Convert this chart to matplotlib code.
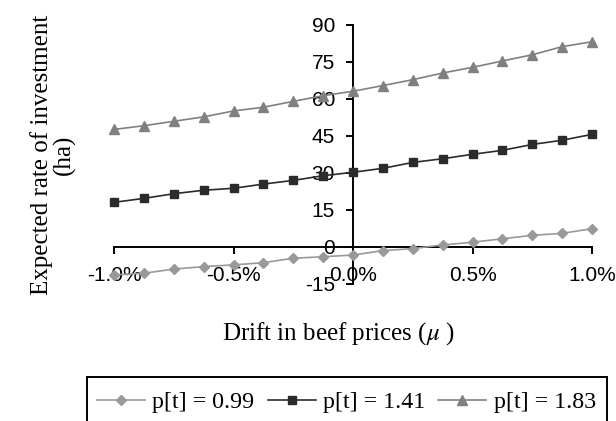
import matplotlib
matplotlib.use("Agg")
import matplotlib.pyplot as plt
from matplotlib.patches import Rectangle
from matplotlib.ticker import FuncFormatter, MultipleLocator

# ---- data ----
drift = [-1.0, -0.875, -0.75, -0.625, -0.5, -0.375, -0.25, -0.125, 0.0,
         0.125, 0.25, 0.375, 0.5, 0.625, 0.75, 0.875, 1.0]
p099 = [-11.5, -10.8, -9.1, -8.1, -7.4, -6.5, -4.7, -4.1, -3.4,
        -1.6, -0.8, 0.7, 1.8, 3.2, 4.6, 5.4, 7.3]
p141 = [18.0, 19.6, 21.5, 22.9, 23.7, 25.4, 26.9, 28.8, 30.2,
        31.8, 34.2, 35.7, 37.5, 39.1, 41.5, 43.2, 45.6]
p183 = [47.6, 49.1, 50.9, 52.7, 55.1, 56.6, 59.0, 61.3, 63.1,
        65.4, 67.8, 70.5, 72.8, 75.4, 77.9, 81.2, 83.2]
labels = ["p[t] = 0.99", "p[t] = 1.41", "p[t] = 1.83"]
yticks = [-15, 0, 15, 30, 45, 60, 75, 90]

plt.rcParams['mathtext.fontset'] = 'stix'
plt.rcParams['axes.unicode_minus'] = False

W, H = 616, 421
fig = plt.figure(figsize=(W / 100, H / 100), dpi=100)
ax = fig.add_axes([114 / W, 1 - 283.6 / H, (592 - 114) / W, (283.6 - 25) / H])

series = [
    (p099, '#999999', 'D', 5.5),
    (p141, '#2b2b2b', 's', 5.5),
    (p183, '#808080', '^', 7),
]
handles = []
for vals, col, mk, ms in series:
    h, = ax.plot(drift, vals, color=col, lw=1.2, marker=mk, ms=ms,
                 markerfacecolor=col, markeredgecolor=col, clip_on=False, zorder=3)
    handles.append(h)

ax.set_xlim(-1.0, 1.0)
ax.set_ylim(-15, 90)
ax.set_yticks(yticks)
ax.xaxis.set_major_locator(MultipleLocator(0.5))
ax.xaxis.set_major_formatter(FuncFormatter(lambda v, p: f"{v:.1f}%"))

for s in ['top', 'right']:
    ax.spines[s].set_visible(False)
ax.spines['left'].set_position(('data', 0))
ax.spines['bottom'].set_position(('data', 0))
for s in ['left', 'bottom']:
    ax.spines[s].set_linewidth(1.4)
    ax.spines[s].set_color('black')
ax.tick_params(axis='both', direction='out', length=5, width=1.4, color='black')
ax.tick_params(axis='x', pad=9, labelsize=15)
ax.tick_params(axis='y', pad=8, labelsize=15)
for lab in ax.get_xticklabels() + ax.get_yticklabels():
    lab.set_fontfamily('Liberation Sans')

serif = 'Liberation Serif'
fig.text(53 / W, 1 - 155 / H, "Expected rate of investment\n(ha)", rotation=90,
         ha='center', va='center', multialignment='center', fontsize=18,
         family=serif, linespacing=1.0)
fig.text(338 / W, 1 - 334 / H, "Drift in beef prices ($\\mu$ )", ha='center', va='center',
         fontsize=18, family=serif)

# legend box (bottom cut by figure edge)
fig.add_artist(Rectangle((87 / W, -0.05), (607 - 87) / W, (1 - 377 / H) + 0.05,
                         transform=fig.transFigure, fill=False, edgecolor='black', lw=1.4))
leg = fig.legend(handles, labels, loc='center left', bbox_to_anchor=(97 / W, 1 - 402 / H),
                 ncol=3, frameon=False, borderpad=0, borderaxespad=0,
                 handlelength=2.0, handletextpad=0.3, columnspacing=0.55,
                 prop={'family': serif, 'size': 17.3})

fig.savefig("out.png", dpi=100)
